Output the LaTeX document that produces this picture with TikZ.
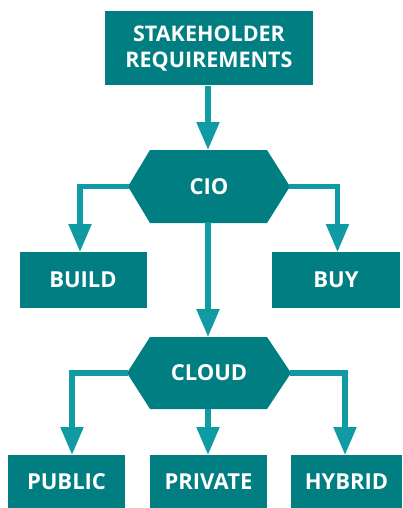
\documentclass[tikz,border=0pt]{standalone}
\usepackage{fontspec}
\setmainfont{Open Sans}
\usetikzlibrary{arrows.meta}
\definecolor{boxteal}{HTML}{007E82}
\definecolor{arrteal}{HTML}{109BA4}
\begin{document}
\begin{tikzpicture}[x=1pt,y=-1pt,
  box/.style={fill=boxteal,draw=none,inner sep=0pt,text=white,font=\bfseries\fontsize{22}{26}\selectfont,align=center},
  conn/.style={draw=arrteal,line width=5.3pt,-{Triangle[length=28pt,width=22pt]}},
  hexa/.style={fill=boxteal,draw=none}]
\useasboundingbox (0,0) rectangle (403,508);
% boxes
\node[box,font=\bfseries\fontsize{21.5}{26}\selectfont,minimum width=208pt,minimum height=74pt] (sr) at (209,48.5) {STAKEHOLDER\\REQUIREMENTS};
\node[box,minimum width=127pt,minimum height=56pt] (build) at (83,280) {BUILD};
\node[box,minimum width=128pt,minimum height=56pt] (buy) at (336,280) {BUY};
\node[box,minimum width=117pt,minimum height=53pt] (public) at (66.5,481.5) {PUBLIC};
\node[box,minimum width=117pt,minimum height=53pt] (private) at (208.5,481.5) {PRIVATE};
\node[box,minimum width=111pt,minimum height=53pt] (hybrid) at (346.5,481.5) {HYBRID};
% hexagons
\fill[boxteal] (128,186.5) -- (150,150) -- (267,150) -- (290,186.5) -- (267,223) -- (150,223) -- cycle;
\node[box,fill=none,minimum width=140pt,minimum height=73pt] (cio) at (209,186.5) {CIO};
\fill[boxteal] (127,373) -- (150,337) -- (267,337) -- (291,373) -- (267,409) -- (150,409) -- cycle;
\node[box,fill=none,minimum width=140pt,minimum height=72pt] (cloud) at (209,373) {CLOUD};
% connectors
\coordinate (cioL) at (129,186.5);
\coordinate (cioR) at (289,186.5);
\coordinate (clL) at (128,373);
\coordinate (clR) at (290,373);
\draw[conn] (sr.south -| 208,0) -- (208,150);
\draw[conn] (cioL) -| (80,252);
\draw[conn] (cioR) -| (337.5,252);
\draw[conn] (208,222) -- (208,337);
\draw[conn] (clL) -| (72,455);
\draw[conn] (208,409) -- (208,455);
\draw[conn] (clR) -| (345,455);
\end{tikzpicture}
\end{document}
